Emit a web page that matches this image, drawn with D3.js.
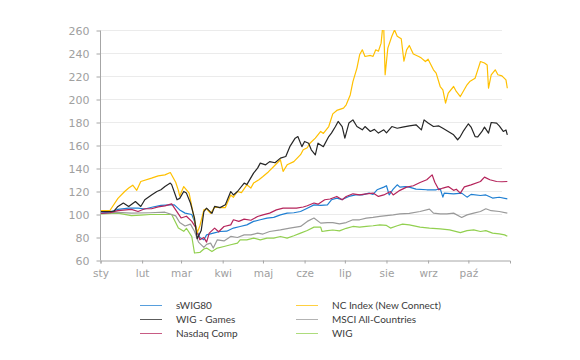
<!DOCTYPE html>
<html>
<head>
<meta charset="utf-8">
<script src="https://cdn.jsdelivr.net/npm/d3@7"></script>
<style>
  body { margin: 0; background: #fff; }
  svg { display: block; }
</style>
</head>
<body>
<div id="chart"></div>
<script>
// [day of 2020 (0 = 1 Jan), index value]
var swig80 = [[0,101.2],[7,102],[13,104.5],[21,105.5],[28,105.5],[33,104.8],[39,106.5],[45,108],[52,108.4],[55,108.4],[59,104],[63,101.2],[68,100],[70,94],[72,85],[74,80],[77,78],[79,82.3],[84,83.8],[89,85.2],[94,85.5],[99,88.2],[104,89.6],[109,91],[114,94],[119,95.4],[124,96.9],[129,97.5],[134,99.7],[139,101.2],[144,101.5],[149,102.6],[154,105.5],[159,108.4],[164,108],[169,108.4],[172,112.8],[176,114.3],[180,113],[185,115.7],[190,117.1],[195,117],[200,118.6],[203,117.5],[206,121.5],[211,123.8],[213,125],[215,117.1],[218,122],[221,125.8],[223,123.8],[227,124.3],[230,123.8],[235,122.1],[243,121.5],[250,121.5],[253,122.5],[255,115.1],[256,118.6],[263,118],[269,118.6],[273,115.1],[276,117.5],[283,116.5],[287,117],[292,114.3],[297,115],[303,113.6]];

var wigGames = [[0,102.6],[7,102.6],[10,103],[13,107],[17,110],[21,107],[26,111.3],[30,107],[33,112.8],[38,117],[42,120],[45,121.5],[48,124.3],[52,127.3],[53,126],[57,112.8],[59,114],[62,120],[64,118.6],[67,110],[70,96.9],[72,79],[75,86],[77,102.6],[79,105.5],[83,101],[85,107],[89,106],[93,108.4],[97,120],[99,117],[102,120],[107,127.3],[109,126],[114,136],[117,140.3],[119,144.7],[123,143.2],[126,146],[130,145],[134,149],[138,150.4],[141,159],[145,166.4],[147,167.8],[150,159],[152,163.5],[155,162],[157,156.3],[160,151.9],[162,162],[166,159],[170,167.8],[172,170.8],[175,176.5],[177,180.9],[180,176.5],[182,166.4],[185,179.5],[188,182.3],[191,176.5],[195,173.6],[197,176.5],[201,172.2],[204,174],[207,170.8],[211,173.6],[213,171],[217,176.5],[221,175],[225,176],[230,177.1],[235,178],[239,173.6],[241,182.3],[244,179.5],[248,176.5],[252,177],[255,175],[259,172.2],[263,169.3],[266,165],[268,167.8],[270,172],[274,178.9],[276,176],[279,167.8],[281,167.5],[284,172],[286,176],[289,170.8],[291,180],[295,179.5],[297,177],[300,172.2],[302,173.5],[303,169.3]];

var nasdaq = [[0,101],[7,101.5],[13,103.3],[23,104.5],[28,102.6],[33,105],[38,105],[43,106.6],[48,107.5],[53,109.3],[56,104],[60,97],[64,98.5],[68,94],[71,88.5],[74,78],[77,80],[79,76],[81,83.8],[85,88.2],[88,85],[92,89.6],[97,91],[99,95.4],[103,94],[107,96],[112,95],[117,98.3],[121,99.7],[126,101.2],[131,104],[136,105.5],[141,105.5],[146,105.5],[151,106.5],[154,107.6],[159,110],[162,109],[167,112.8],[171,113.5],[176,115.7],[180,112.8],[183,115.7],[188,118],[193,117],[198,118],[203,118.6],[207,115.7],[211,117],[216,120],[218,117],[223,121],[228,123.8],[233,125],[238,127.8],[243,130.2],[247,134.5],[249,128],[252,121.5],[255,123],[259,124.3],[263,121],[265,122],[268,118.6],[271,124],[276,125.8],[283,128.7],[286,132.5],[290,130.2],[295,128.7],[299,128.5],[303,128.7]];

var ncIndex = [[0,103.5],[7,103.5],[13,114],[18,120],[21,123],[24,125.5],[27,121],[30,128.7],[38,131.6],[43,133.6],[48,134.5],[52,136.5],[56,128],[58,121],[59,116],[62,124.3],[66,118.6],[69,101],[72,84],[74,90],[77,104],[79,105],[82,101],[85,106.4],[89,106],[93,106],[97,117],[99,115],[102,120],[105,119],[109,125.8],[112,123],[114,127.3],[118,130.2],[121,133],[125,137],[129,141.7],[134,147.6],[136,137.4],[139,143.2],[144,146],[149,152],[151,156.3],[154,158],[156,162],[160,166.4],[164,172.2],[166,170.5],[170,176.5],[173,187.5],[176,190.5],[181,192.5],[183,195.4],[186,204],[188,215.6],[191,227.3],[193,238.9],[195,243.2],[197,237.4],[201,238.3],[203,237.5],[205,243.2],[207,242],[209,249],[210,261],[211,261],[212,221.5],[214,244.7],[217,255],[219,260.5],[221,255],[224,252.8],[226,233.3],[228,243.2],[230,247],[233,239.5],[237,237.4],[239,236],[242,233],[244,235],[248,225.8],[250,222.9],[253,211.3],[255,208.4],[257,196.9],[259,205.6],[263,211.3],[265,207],[268,202.6],[273,212.8],[275,215.6],[279,218.5],[281,225.8],[283,233],[286,231.7],[288,230],[289,209.8],[291,221.5],[294,225.8],[296,221.5],[299,220.5],[302,217],[303,209.8]];

var msci = [[0,101],[13,101.8],[23,101.2],[37,101.5],[48,102],[56,98.8],[59,93],[63,90],[67,91.6],[70,85.4],[73,76],[77,71.4],[79,74],[82,75.1],[84,70.8],[87,78],[92,77],[97,80.9],[102,80],[107,82.3],[112,82.3],[117,83.8],[121,83],[126,85.2],[134,86.7],[141,88.2],[149,89.6],[154,94],[159,96.9],[164,92.5],[169,93],[173,93],[178,91.9],[183,93],[188,95.4],[193,95.4],[198,96.9],[203,97.5],[208,98.3],[213,99],[218,99.7],[223,100.6],[230,101],[238,102.6],[245,104.7],[248,101.2],[253,100.6],[258,100.6],[263,101.2],[269,97.4],[273,99.7],[278,101.2],[283,102.6],[287,105],[291,103.3],[297,102.6],[303,101.2]];

var wig = [[0,100.6],[13,101.2],[23,99],[30,99.5],[37,100],[48,100],[53,100],[58,88.2],[62,85.4],[64,88],[68,80.7],[70,66.5],[74,67],[77,70],[79,70.8],[83,67.8],[87,70.8],[92,72.2],[97,73.7],[102,75.1],[104,78],[109,78],[114,79.5],[119,78],[124,79.5],[129,79.5],[134,80.9],[139,79.5],[144,81.5],[149,83.8],[154,86.1],[159,89],[164,89],[165,85.2],[169,86],[173,86.5],[178,85.8],[183,88],[188,89.6],[193,89],[198,89.6],[203,90.2],[208,91],[213,90.5],[216,88.2],[221,90.2],[225,91.6],[230,91],[238,89],[245,88.2],[253,87.5],[260,86.7],[268,84.3],[273,86],[278,86.7],[283,85.2],[287,86],[292,83.8],[297,83.2],[301,82.3],[303,81]];

var seriesNames = ['sWIG80', 'NC Index (New Connect)', 'WIG - Games', 'MSCI All-Countries', 'Nasdaq Comp', 'WIG'];
var seriesData = [swig80, ncIndex, wigGames, msci, nasdaq, wig];
var seriesColors = ['#1f7fd2', '#ffc000', '#262626', '#9a9a9a', '#b5245b', '#92d050'];
var drawOrder = [5, 3, 0, 4, 1, 2];

var monthLabels = ['sty', 'lut', 'mar', 'kwi', 'maj', 'cze', 'lip', 'sie', 'wrz', 'paź'];
var yTicks = [60, 80, 100, 120, 140, 160, 180, 200, 220, 240, 260];

var width = 580, height = 360;
var start = new Date(Date.UTC(2020, 0, 1));
var toDate = function(day) { return d3.utcDay.offset(start, day); };

var x = d3.scaleUtc()
    .domain([start, new Date(Date.UTC(2020, 10, 1))])
    .range([100.5, 510]);
var y = d3.scaleLinear()
    .domain([60, 260])
    .range([260.5, 30.5]);

var svg = d3.select('#chart')
    .append('svg')
    .attr('width', width)
    .attr('height', height);

// gridlines
svg.append('g')
    .selectAll('line')
    .data(yTicks.slice(1))
    .enter()
    .append('line')
    .attr('x1', 101)
    .attr('x2', 502)
    .attr('y1', d => y(d))
    .attr('y2', d => y(d))
    .attr('stroke', '#ebebeb')
    .attr('stroke-width', 1);

// clip so the NC Index peak stays inside
svg.append('clipPath')
    .attr('id', 'plot-clip')
    .append('rect')
    .attr('x', 100)
    .attr('y', y(260) - 0.5)
    .attr('width', 412)
    .attr('height', y(60) - y(260) + 1);

var line = d3.line()
    .x(d => x(toDate(d[0])))
    .y(d => y(d[1]));

svg.append('g')
    .attr('clip-path', 'url(#plot-clip)')
    .selectAll('path')
    .data(drawOrder)
    .enter()
    .append('path')
    .attr('d', i => line(seriesData[i]))
    .attr('fill', 'none')
    .attr('stroke', i => seriesColors[i])
    .attr('stroke-width', 1.2)
    .attr('stroke-linejoin', 'round');

// axes
var yAxis = d3.axisLeft(y)
    .tickValues(yTicks)
    .tickSize(4)
    .tickPadding(7);

var xAxis = d3.axisBottom(x)
    .tickValues(monthLabels.map((m, i) => new Date(Date.UTC(2020, i, 1))))
    .tickFormat((d, i) => monthLabels[i])
    .tickSize(3)
    .tickPadding(6);

var gy = svg.append('g')
    .attr('transform', 'translate(100.5,0)')
    .call(yAxis);
gy.select('.domain').attr('d', `M0,${y(260)}V${y(60)}`);

var gx = svg.append('g')
    .attr('transform', `translate(0,${y(60)})`)
    .call(xAxis);

[gx, gy].forEach(g => {
    g.select('.domain').attr('stroke', '#a6a6a6');
    g.selectAll('.tick line').attr('stroke', '#a6a6a6');
    g.selectAll('.tick text')
        .attr('fill', '#a0a0a0')
        .style('font-family', '"DejaVu Sans", Verdana, sans-serif')
        .style('font-size', '10.5px');
});
gy.selectAll('.tick text').style('font-size', '11px');

// legend
var legendCols = [140, 296];
var legendRows = [305, 319, 333];

var legend = svg.append('g')
    .selectAll('g')
    .data(seriesNames)
    .enter()
    .append('g')
    .attr('transform', (d, i) => `translate(${legendCols[i % 2]},${legendRows[Math.floor(i / 2)]})`);

legend.append('line')
    .attr('x1', 0)
    .attr('x2', 22)
    .attr('y1', 0.5)
    .attr('y2', 0.5)
    .attr('stroke', (d, i) => seriesColors[i])
    .attr('stroke-opacity', 0.75)
    .attr('stroke-width', 1);

legend.append('text')
    .attr('x', 36)
    .attr('y', 4)
    .style('font-family', 'Lato, sans-serif')
    .style('font-size', '10px')
    .attr('fill', '#3a3a3a')
    .text(d => d);
</script>
</body>
</html>
